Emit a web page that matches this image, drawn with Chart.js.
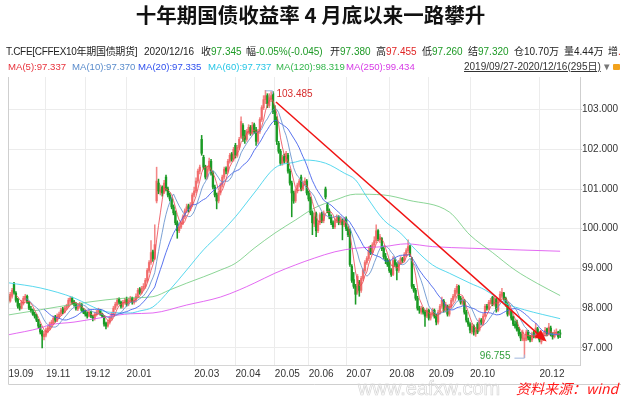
<!DOCTYPE html>
<html>
<head>
<meta charset="utf-8">
<script src="https://cdn.jsdelivr.net/npm/chart.js@4.4.1/dist/chart.umd.min.js"></script>
<style>
  body { margin: 0; background: #fff; }
  #wrap { position: relative; width: 621px; height: 399px; overflow: hidden;
          font-family: "Liberation Sans", "Noto Sans CJK SC", sans-serif; color: #222; }
  #wrap canvas { position: absolute; left: 0; top: 0; }
  .t { position: absolute; white-space: nowrap; line-height: 1; }
  .title { left: 0; width: 621px; top: 4px; text-align: center; font-size: 20.5px; font-weight: 700; color: #111;
           font-family: "Noto Sans CJK SC", sans-serif; }
  .h1 { top: 47px; font-size: 10px; }
  .h2 { top: 62px; font-size: 9.6px; }
  .g { color: #1e9a26; }
  .r { color: #e02424; }
  .src { left: 516px; top: 381px; font-size: 14px; font-style: italic; color: #ff1a1a;
         font-family: "Noto Sans CJK SC", sans-serif; }
  .wm { left: 358px; top: 378px; font-size: 20px; color: transparent;
        -webkit-text-stroke: 0.7px #d6d6d6; }
</style>
</head>
<body>
<div id="wrap">
  <canvas id="kline"></canvas>
  <div class="t title">十年期国债收益率 4 月底以来一路攀升</div>

  <div class="t h1" style="left:6px;letter-spacing:-0.3px">T.CFE[CFFEX10年期国债期货]</div>
  <div class="t h1" style="left:144px">2020/12/16</div>
  <div class="t h1" style="left:201px">收<span class="g">97.345</span></div>
  <div class="t h1" style="left:246px">幅<span class="g">-0.05%(-0.045)</span></div>
  <div class="t h1" style="left:330px">开<span class="g">97.380</span></div>
  <div class="t h1" style="left:376px">高<span class="r">97.455</span></div>
  <div class="t h1" style="left:422px">低<span class="g">97.260</span></div>
  <div class="t h1" style="left:468px">结<span class="g">97.320</span></div>
  <div class="t h1" style="left:514px">仓10.70万</div>
  <div class="t h1" style="left:564px">量4.44万</div>
  <div class="t h1" style="left:608px">增<span class="r">..</span></div>

  <div class="t h2" style="left:8px;color:#e8323c">MA(5):97.337</div>
  <div class="t h2" style="left:72px;color:#5a8ccc">MA(10):97.370</div>
  <div class="t h2" style="left:138px;color:#2f50ee">MA(20):97.335</div>
  <div class="t h2" style="left:208px;color:#27c6e6">MA(60):97.737</div>
  <div class="t h2" style="left:276px;color:#33b64c">MA(120):98.319</div>
  <div class="t h2" style="left:346px;color:#d63ae6">MA(250):99.434</div>
  <div class="t h2" style="left:464px;color:#333;text-decoration:underline;font-size:10px">2019/09/27-2020/12/16(295日)</div>
  <div class="t h2" style="left:602px;color:#777">▼</div>
  <div class="t" style="left:613px;top:64px;width:7px;height:6px;background:#f2a21c;border-radius:1px"></div>

  <div class="t wm">www.eafxw.com</div>
  <div class="t src">资料来源：wind</div>
</div>

<script>
// daily candles, 2019/09/27 - 2020/12/16 (295 trading days)
const opens = [
  98.30, 98.18, 98.30, 98.60, 98.38, 98.22, 98.05, 98.00, 98.12, 98.22,
  98.30, 98.15, 97.98, 97.95, 97.85, 97.80, 97.70, 97.55, 97.42, 97.28,
  97.32, 97.42, 97.48, 97.58, 97.62, 97.78, 97.70, 97.78, 97.85, 97.98,
  97.90, 98.00, 98.05, 98.18, 98.25, 98.16, 98.10, 97.98, 98.04, 98.10,
  97.96, 97.92, 97.86, 97.80, 97.90, 97.78, 97.74, 97.84, 97.90, 97.95,
  97.86, 97.80, 97.62, 97.55, 97.64, 97.74, 97.84, 98.00, 98.08, 98.22,
  98.15, 98.04, 98.14, 98.22, 98.10, 98.18, 98.26, 98.14, 98.20, 98.30,
  98.48, 98.40, 98.50, 98.55, 98.70, 98.95, 99.15, 99.42, 99.25, 100.70,
  101.15, 100.92, 101.05, 100.92, 101.30, 101.00, 100.85, 100.75, 100.55, 100.40,
  100.15, 99.95, 100.04, 100.15, 100.30, 100.45, 100.58, 100.50, 100.60, 100.85,
  100.95, 101.20, 101.45, 102.25, 101.80, 101.55, 101.30, 101.50, 101.70, 101.40,
  101.05, 100.85, 100.70, 100.90, 101.10, 101.30, 101.52, 101.45, 101.70, 101.88,
  101.75, 102.10, 101.85, 102.05, 102.30, 102.60, 102.35, 102.25, 102.42, 102.55,
  102.40, 102.62, 102.48, 102.20, 102.45, 102.75, 103.05, 103.25, 103.35, 103.10,
  103.28, 103.40, 103.00, 102.75, 102.15, 101.95, 101.65, 101.82, 101.70, 101.85,
  101.45, 101.15, 100.90, 100.70, 100.95, 101.10, 101.30, 101.00, 101.15, 101.20,
  100.90, 100.75, 100.40, 100.12, 100.38, 99.95, 100.15, 100.38, 100.20, 101.00,
  100.60, 100.45, 100.30, 100.15, 100.05, 100.20, 100.30, 100.15, 100.20, 100.10,
  100.25, 100.00, 99.95, 99.05, 98.72, 98.55, 98.40, 98.65, 98.45, 98.75,
  98.95, 99.15, 99.25, 99.55, 99.40, 99.60, 99.70, 99.95, 99.72, 99.75,
  99.50, 99.30, 99.20, 99.20, 98.95, 98.85, 99.20, 99.10, 98.95, 99.15,
  99.25, 99.20, 99.35, 99.45, 99.55, 99.25, 98.55, 98.45, 98.25, 98.00,
  97.90, 98.00, 97.90, 97.80, 97.95, 97.75, 97.85, 97.95, 97.80, 97.65,
  97.90, 98.05, 98.18, 97.95, 98.05, 97.85, 98.05, 98.20, 98.30, 98.40,
  98.55, 98.25, 98.12, 98.20, 97.90, 97.68, 97.60, 97.40, 97.55, 97.35,
  97.60, 97.45, 97.70, 97.62, 97.80, 98.05, 97.98, 98.12, 98.28, 98.10,
  98.22, 97.95, 98.20, 98.30, 98.38, 98.25, 98.10, 97.85, 97.92, 97.78,
  97.60, 97.65, 97.48, 97.35, 97.22, 97.18, 97.22, 97.40, 97.28, 97.20,
  97.38, 97.28, 97.48, 97.35, 97.15, 97.20, 97.35, 97.48, 97.35, 97.50,
  97.34, 97.28, 97.36, 97.40, 97.38
];
const highs = [
  98.35, 98.40, 98.50, 98.65, 98.42, 98.25, 98.12, 98.20, 98.30, 98.35,
  98.33, 98.18, 98.05, 97.98, 97.90, 97.85, 97.72, 97.60, 97.45, 97.42,
  97.50, 97.55, 97.65, 97.70, 97.80, 97.82, 97.86, 97.90, 98.00, 98.02,
  98.05, 98.10, 98.25, 98.30, 98.28, 98.20, 98.14, 98.10, 98.15, 98.12,
  98.00, 97.95, 97.90, 97.95, 97.92, 97.82, 97.90, 97.95, 98.00, 97.97,
  97.88, 97.82, 97.65, 97.70, 97.80, 97.90, 98.05, 98.15, 98.25, 98.26,
  98.18, 98.20, 98.25, 98.28, 98.25, 98.30, 98.28, 98.25, 98.36, 98.50,
  98.52, 98.55, 98.62, 98.75, 99.00, 99.20, 99.70, 99.46, 100.10, 101.55,
  101.25, 101.10, 101.08, 101.22, 101.35, 101.05, 100.90, 100.78, 100.60, 100.45,
  100.20, 100.12, 100.20, 100.35, 100.50, 100.62, 100.62, 100.66, 100.90, 101.05,
  101.28, 101.50, 101.60, 102.35, 101.85, 101.60, 101.58, 101.78, 101.75, 101.45,
  101.10, 100.90, 100.95, 101.15, 101.35, 101.55, 101.56, 101.75, 101.90, 101.92,
  102.05, 102.15, 102.10, 102.30, 102.82, 102.65, 102.48, 102.50, 102.62, 102.60,
  102.68, 102.66, 102.55, 102.50, 102.80, 103.10, 103.35, 103.485, 103.40, 103.40,
  103.45, 103.45, 103.10, 102.82, 102.20, 102.00, 101.85, 101.88, 101.95, 101.90,
  101.50, 101.20, 100.95, 101.00, 101.15, 101.25, 101.35, 101.20, 101.28, 101.24,
  100.95, 100.80, 100.45, 100.40, 100.42, 100.20, 100.40, 100.42, 100.45, 101.05,
  100.65, 100.50, 100.35, 100.20, 100.25, 100.35, 100.33, 100.30, 100.25, 100.28,
  100.30, 100.05, 100.00, 99.10, 98.90, 98.60, 98.85, 98.70, 98.80, 99.00,
  99.20, 99.30, 99.55, 99.58, 99.65, 99.80, 100.10, 99.98, 99.86, 99.78,
  99.55, 99.38, 99.25, 99.22, 99.00, 99.30, 99.25, 99.15, 99.20, 99.30,
  99.28, 99.40, 99.50, 99.72, 99.58, 99.28, 98.60, 98.50, 98.30, 98.05,
  98.05, 98.02, 97.95, 98.00, 97.98, 97.90, 98.00, 97.98, 97.85, 97.95,
  98.10, 98.28, 98.22, 98.15, 98.08, 98.10, 98.25, 98.35, 98.50, 98.60,
  98.58, 98.30, 98.28, 98.22, 97.95, 97.75, 97.64, 97.62, 97.58, 97.52,
  97.64, 97.75, 97.74, 97.86, 98.10, 98.10, 98.20, 98.25, 98.30, 98.30,
  98.25, 98.25, 98.42, 98.50, 98.40, 98.28, 98.14, 98.05, 97.95, 97.80,
  97.68, 97.70, 97.52, 97.40, 97.45, 97.32, 97.45, 97.44, 97.32, 97.40,
  97.42, 97.62, 97.52, 97.38, 97.30, 97.40, 97.52, 97.50, 97.62, 97.55,
  97.38, 97.45, 97.48, 97.42, 97.455
];
const lows = [
  98.12, 98.15, 98.25, 98.35, 98.15, 98.00, 97.95, 97.98, 98.08, 98.18,
  98.12, 97.96, 97.90, 97.82, 97.75, 97.66, 97.50, 97.35, 97.00, 97.20,
  97.28, 97.38, 97.45, 97.52, 97.60, 97.65, 97.66, 97.74, 97.82, 97.86,
  97.88, 97.96, 98.02, 98.12, 98.10, 98.05, 97.95, 97.94, 98.00, 97.92,
  97.86, 97.80, 97.75, 97.78, 97.76, 97.68, 97.70, 97.80, 97.86, 97.82,
  97.76, 97.55, 97.48, 97.52, 97.60, 97.70, 97.80, 97.96, 98.05, 98.10,
  98.00, 98.00, 98.10, 98.05, 98.06, 98.14, 98.10, 98.10, 98.16, 98.26,
  98.35, 98.36, 98.45, 98.50, 98.66, 98.90, 99.10, 99.18, 99.22, 100.65,
  100.88, 100.85, 100.82, 100.88, 100.95, 100.80, 100.70, 100.50, 100.35, 100.10,
  99.76, 99.90, 100.00, 100.10, 100.25, 100.40, 100.42, 100.45, 100.55, 100.80,
  100.90, 101.15, 101.38, 101.85, 101.50, 101.25, 101.25, 101.45, 101.35, 101.00,
  100.80, 100.50, 100.65, 100.85, 101.05, 101.25, 101.38, 101.40, 101.65, 101.70,
  101.70, 101.78, 101.80, 102.00, 102.27, 102.20, 102.15, 102.20, 102.38, 102.35,
  102.36, 102.40, 102.10, 102.15, 102.40, 102.70, 103.00, 103.15, 103.05, 103.05,
  103.20, 102.90, 102.62, 102.12, 101.90, 101.60, 101.60, 101.65, 101.66, 101.40,
  101.10, 100.30, 100.64, 100.66, 100.90, 101.05, 100.95, 100.96, 101.10, 100.85,
  100.70, 100.35, 99.85, 100.05, 99.80, 99.90, 100.10, 100.15, 100.15, 100.75,
  100.40, 100.25, 100.10, 100.00, 100.00, 100.15, 100.10, 100.10, 99.72, 100.05,
  99.95, 99.80, 99.05, 98.65, 98.50, 98.10, 98.35, 98.30, 98.40, 98.70,
  98.90, 99.10, 99.20, 99.35, 99.36, 99.55, 99.65, 99.70, 99.65, 99.45,
  99.25, 99.12, 99.05, 98.90, 98.80, 98.82, 99.05, 98.71, 98.90, 99.10,
  99.15, 99.16, 99.30, 99.40, 99.30, 98.50, 98.40, 98.20, 97.95, 97.87,
  97.85, 97.85, 97.54, 97.76, 97.70, 97.70, 97.80, 97.75, 97.58, 97.60,
  97.85, 98.00, 97.90, 97.90, 97.80, 97.80, 98.00, 98.15, 98.25, 98.35,
  98.20, 98.10, 98.08, 97.85, 97.65, 97.54, 97.38, 97.35, 97.32, 97.29,
  97.36, 97.42, 97.58, 97.58, 97.78, 97.95, 97.96, 98.10, 98.06, 98.05,
  97.90, 97.92, 98.15, 98.25, 98.20, 98.05, 97.80, 97.82, 97.70, 97.56,
  97.50, 97.42, 97.30, 97.18, 97.18, 96.755, 97.18, 97.20, 97.15, 97.16,
  97.25, 97.24, 97.30, 97.15, 97.10, 97.18, 97.30, 97.30, 97.32, 97.30,
  97.22, 97.25, 97.32, 97.24, 97.26
];
const closes = [
  98.20, 98.35, 98.45, 98.40, 98.20, 98.05, 98.00, 98.15, 98.25, 98.30,
  98.15, 98.00, 97.95, 97.85, 97.80, 97.70, 97.55, 97.40, 97.30, 97.35,
  97.45, 97.50, 97.60, 97.65, 97.75, 97.70, 97.80, 97.85, 97.95, 97.90,
  98.00, 98.05, 98.20, 98.25, 98.15, 98.10, 98.00, 98.05, 98.10, 97.95,
  97.90, 97.85, 97.80, 97.90, 97.80, 97.75, 97.85, 97.90, 97.95, 97.85,
  97.80, 97.60, 97.55, 97.65, 97.75, 97.85, 98.00, 98.10, 98.20, 98.15,
  98.05, 98.15, 98.20, 98.10, 98.20, 98.25, 98.15, 98.20, 98.30, 98.45,
  98.40, 98.50, 98.55, 98.70, 98.95, 99.15, 99.40, 99.25, 99.60, 101.20,
  100.95, 101.00, 100.90, 101.15, 101.00, 100.85, 100.75, 100.55, 100.40, 100.15,
  99.95, 100.05, 100.15, 100.30, 100.45, 100.55, 100.50, 100.60, 100.85, 100.95,
  101.20, 101.45, 101.55, 101.90, 101.55, 101.30, 101.50, 101.70, 101.40, 101.05,
  100.85, 100.70, 100.90, 101.10, 101.30, 101.50, 101.45, 101.70, 101.85, 101.75,
  102.00, 101.85, 102.05, 102.25, 102.70, 102.35, 102.25, 102.45, 102.55, 102.40,
  102.60, 102.45, 102.20, 102.45, 102.75, 103.05, 103.25, 103.35, 103.15, 103.30,
  103.35, 102.95, 102.70, 102.20, 101.95, 101.65, 101.80, 101.70, 101.90, 101.45,
  101.15, 100.90, 100.70, 100.95, 101.10, 101.20, 101.00, 101.15, 101.20, 100.90,
  100.75, 100.40, 100.15, 100.30, 99.95, 100.15, 100.35, 100.20, 100.40, 100.80,
  100.45, 100.30, 100.15, 100.05, 100.20, 100.30, 100.15, 100.25, 100.10, 100.20,
  100.00, 99.85, 99.10, 98.70, 98.55, 98.35, 98.80, 98.45, 98.75, 98.95,
  99.15, 99.25, 99.45, 99.40, 99.60, 99.70, 99.95, 99.75, 99.80, 99.50,
  99.30, 99.20, 99.10, 98.95, 98.85, 99.20, 99.10, 98.95, 99.15, 99.25,
  99.20, 99.35, 99.45, 99.55, 99.35, 98.55, 98.45, 98.25, 98.00, 97.95,
  98.00, 97.90, 97.80, 97.95, 97.75, 97.85, 97.95, 97.80, 97.65, 97.90,
  98.05, 98.20, 97.95, 98.10, 97.85, 98.05, 98.20, 98.30, 98.45, 98.55,
  98.25, 98.15, 98.20, 97.90, 97.70, 97.60, 97.45, 97.55, 97.40, 97.45,
  97.40, 97.70, 97.65, 97.80, 98.05, 98.00, 98.15, 98.20, 98.10, 98.25,
  97.95, 98.20, 98.35, 98.40, 98.25, 98.10, 97.85, 97.95, 97.75, 97.60,
  97.55, 97.45, 97.35, 97.25, 97.40, 97.25, 97.40, 97.25, 97.20, 97.35,
  97.30, 97.50, 97.35, 97.20, 97.185, 97.35, 97.45, 97.35, 97.525, 97.34,
  97.28, 97.38, 97.40, 97.28, 97.345
];

// month ticks (index of the first trading day) and their labels
const tickIdx  = [0, 20, 41, 63, 99, 121, 142, 160, 180, 203, 224, 246, 283];
const tickText = ['19.09', '19.11', '19.12', '20.01', '20.03', '20.04', '20.05',
                  '20.06', '20.07', '20.08', '20.09', '20.10', '20.12'];
const priceTicks = [97, 98, 99, 100, 101, 102, 103];

// long moving averages at sample days
const ma60Idx = [0, 17, 35, 43, 52, 65, 70, 77, 86, 95, 104, 113, 121, 131, 142, 153,
                 158, 169, 179, 185, 191, 200, 209, 217, 226, 235, 246, 254, 265, 275, 294];
const ma60Val = [98.64, 98.51, 98.26, 98.08, 97.91, 97.88, 97.93, 98.03, 98.46, 98.96,
                 99.47, 99.89, 100.30, 100.90, 101.53, 101.68, 101.73, 101.65, 101.40,
                 101.23, 100.80, 100.22, 99.89, 99.47, 99.09, 98.88, 98.63, 98.46, 98.12,
                 97.96, 97.737];
const ma120Idx = [0, 17, 35, 52, 65, 77, 86, 95, 104, 113, 121, 131, 142, 153, 163, 174,
                  185, 200, 213, 235, 246, 258, 270, 282, 294];
const ma120Val = [97.83, 97.96, 98.10, 98.21, 98.26, 98.29, 98.46, 98.63, 98.79, 98.96,
                  99.13, 99.51, 99.89, 100.22, 100.52, 100.72, 100.87, 100.85, 100.72,
                  100.42, 99.84, 99.40, 98.96, 98.62, 98.319];
const ma250Idx = [0, 17, 22, 35, 52, 65, 77, 95, 113, 123, 131, 142, 153, 163, 174, 185,
                  200, 212, 226, 246, 270, 294];
const ma250Val = [97.33, 97.50, 97.58, 97.65, 97.78, 97.86, 97.88, 98.08, 98.28, 98.46,
                  98.63, 98.88, 99.09, 99.26, 99.42, 99.51, 99.55, 99.62, 99.55, 99.51,
                  99.47, 99.434];

// red trend arrow drawn on the chart
const trendIdx = [142.6, 286.8];
const trendVal = [103.19, 97.16];

const UP = 'rgba(240,95,95,0.75)';
const DOWN = '#1b9a25';
const up = closes.map((c, i) => c >= opens[i]);

function movingAvg(n) {
  const out = [];
  for (let i = n - 1; i < closes.length; i++) {
    let s = 0;
    for (let k = i - n + 1; k <= i; k++) s += closes[k];
    out.push({ x: i, y: s / n });
  }
  return out;
}
const pairs = (idx, val) => idx.map((x, i) => ({ x: x, y: val[i] }));

const wicks = closes.map((c, i) => ({ x: i, y: [lows[i], highs[i]] }));
const bodies = closes.map((c, i) => {
  let a = Math.min(opens[i], c), b = Math.max(opens[i], c);
  if (b - a < 0.01) { a -= 0.005; b += 0.005; }
  return { x: i, y: [a, b] };
});
const candleColor = ctx => up[ctx.dataIndex] ? UP : DOWN;

function maLine(data, color, smooth) {
  return {
    type: 'line', data: data, borderColor: color, borderWidth: 1,
    pointRadius: 0, fill: false, order: 1,
    cubicInterpolationMode: smooth ? 'monotone' : 'default', tension: 0
  };
}

// labels for extremes + the trend arrow
const notes = {
  id: 'notes',
  afterDatasetsDraw(chart) {
    const { ctx, scales: { x, y } } = chart;
    ctx.save();
    ctx.font = '10px "Liberation Sans", sans-serif';
    ctx.textBaseline = 'middle';

    const hi = Math.max(...highs), hiI = highs.indexOf(hi);
    const hx = x.getPixelForValue(hiI), hy = y.getPixelForValue(hi);
    ctx.strokeStyle = '#9fb6dc'; ctx.lineWidth = 1;
    ctx.beginPath(); ctx.moveTo(hx, hy + 0.5); ctx.lineTo(hx + 7, hy + 0.5); ctx.lineTo(hx + 7, hy + 4); ctx.stroke();
    ctx.fillStyle = '#d62b2b'; ctx.textAlign = 'left';
    ctx.fillText(hi.toFixed(3), hx + 11, hy + 4);

    const lo = Math.min(...lows), loI = lows.indexOf(lo);
    const lx = x.getPixelForValue(loI), ly = y.getPixelForValue(lo);
    ctx.strokeStyle = '#9fb6dc';
    ctx.beginPath(); ctx.moveTo(lx - 10, ly + 0.5); ctx.lineTo(lx, ly + 0.5); ctx.lineTo(lx, ly - 3); ctx.stroke();
    ctx.fillStyle = '#2f9e3a'; ctx.textAlign = 'right';
    ctx.fillText(lo.toFixed(3), lx - 14, ly - 1);

    const x0 = x.getPixelForValue(trendIdx[0]), y0 = y.getPixelForValue(trendVal[0]);
    const x1 = x.getPixelForValue(trendIdx[1]), y1 = y.getPixelForValue(trendVal[1]);
    const ang = Math.atan2(y1 - y0, x1 - x0);
    const bx = x1 - 12 * Math.cos(ang), by = y1 - 12 * Math.sin(ang);
    ctx.strokeStyle = '#f01414'; ctx.lineWidth = 1.5;
    ctx.beginPath(); ctx.moveTo(x0, y0); ctx.lineTo(bx, by); ctx.stroke();
    ctx.fillStyle = '#f01414';
    ctx.beginPath();
    ctx.moveTo(x1, y1);
    ctx.lineTo(bx + 5 * Math.sin(ang), by - 5 * Math.cos(ang));
    ctx.lineTo(bx - 5 * Math.sin(ang), by + 5 * Math.cos(ang));
    ctx.closePath(); ctx.fill();

    // frame: left edge and bottom line under the date labels
    ctx.strokeStyle = '#cfcfcf'; ctx.lineWidth = 1;
    ctx.beginPath();
    ctx.moveTo(8.5, chart.chartArea.top); ctx.lineTo(8.5, 384.5); ctx.lineTo(621, 384.5);
    ctx.stroke();
    ctx.restore();
  }
};

new Chart(document.getElementById('kline'), {
  data: {
    datasets: [
      maLine(movingAvg(5), 'rgba(235,70,80,0.8)', false),
      maLine(movingAvg(10), 'rgba(100,145,205,0.85)', false),
      maLine(movingAvg(20), 'rgba(60,90,235,0.85)', false),
      maLine(pairs(ma60Idx, ma60Val), 'rgba(70,212,236,0.9)', true),
      maLine(pairs(ma120Idx, ma120Val), 'rgba(90,195,105,0.7)', true),
      maLine(pairs(ma250Idx, ma250Val), 'rgba(222,80,240,0.85)', true),
      { type: 'bar', data: wicks, backgroundColor: candleColor, barThickness: 0.9, grouped: false, order: 2 },
      { type: 'bar', data: bodies, backgroundColor: candleColor, barThickness: 1.7, grouped: false, order: 2 }
    ]
  },
  options: {
    responsive: true,
    maintainAspectRatio: false,
    animation: false,
    events: [],
    layout: { padding: { top: 77, left: 8, right: 0, bottom: 15 } },
    plugins: { legend: { display: false }, tooltip: { enabled: false } },
    scales: {
      x: {
        type: 'linear', min: -0.2, max: 304.6, offset: false,
        afterBuildTicks: s => { s.ticks = tickIdx.map(v => ({ value: v })); },
        afterFit: s => { s.height = 19; },
        grid: { color: '#ececec', drawTicks: false, offset: false },
        border: { color: '#d6d6d6' },
        ticks: {
          autoSkip: false, maxRotation: 0, minRotation: 0, align: 'start', padding: 3,
          color: '#333', font: { family: 'Liberation Sans', size: 10 },
          callback: (v, i) => tickText[i]
        }
      },
      y: {
        position: 'right', min: 96.57, max: 103.82,
        afterBuildTicks: s => { s.ticks = priceTicks.map(v => ({ value: v })); },
        afterFit: s => { s.width = 41; },
        grid: { color: '#ececec', tickLength: 2, tickColor: '#cccccc' },
        border: { color: '#cfcfcf' },
        ticks: {
          padding: 0, color: '#333', font: { family: 'Liberation Sans', size: 10 },
          callback: v => v.toFixed(3)
        }
      }
    }
  },
  plugins: [notes]
});
</script>
</body>
</html>
